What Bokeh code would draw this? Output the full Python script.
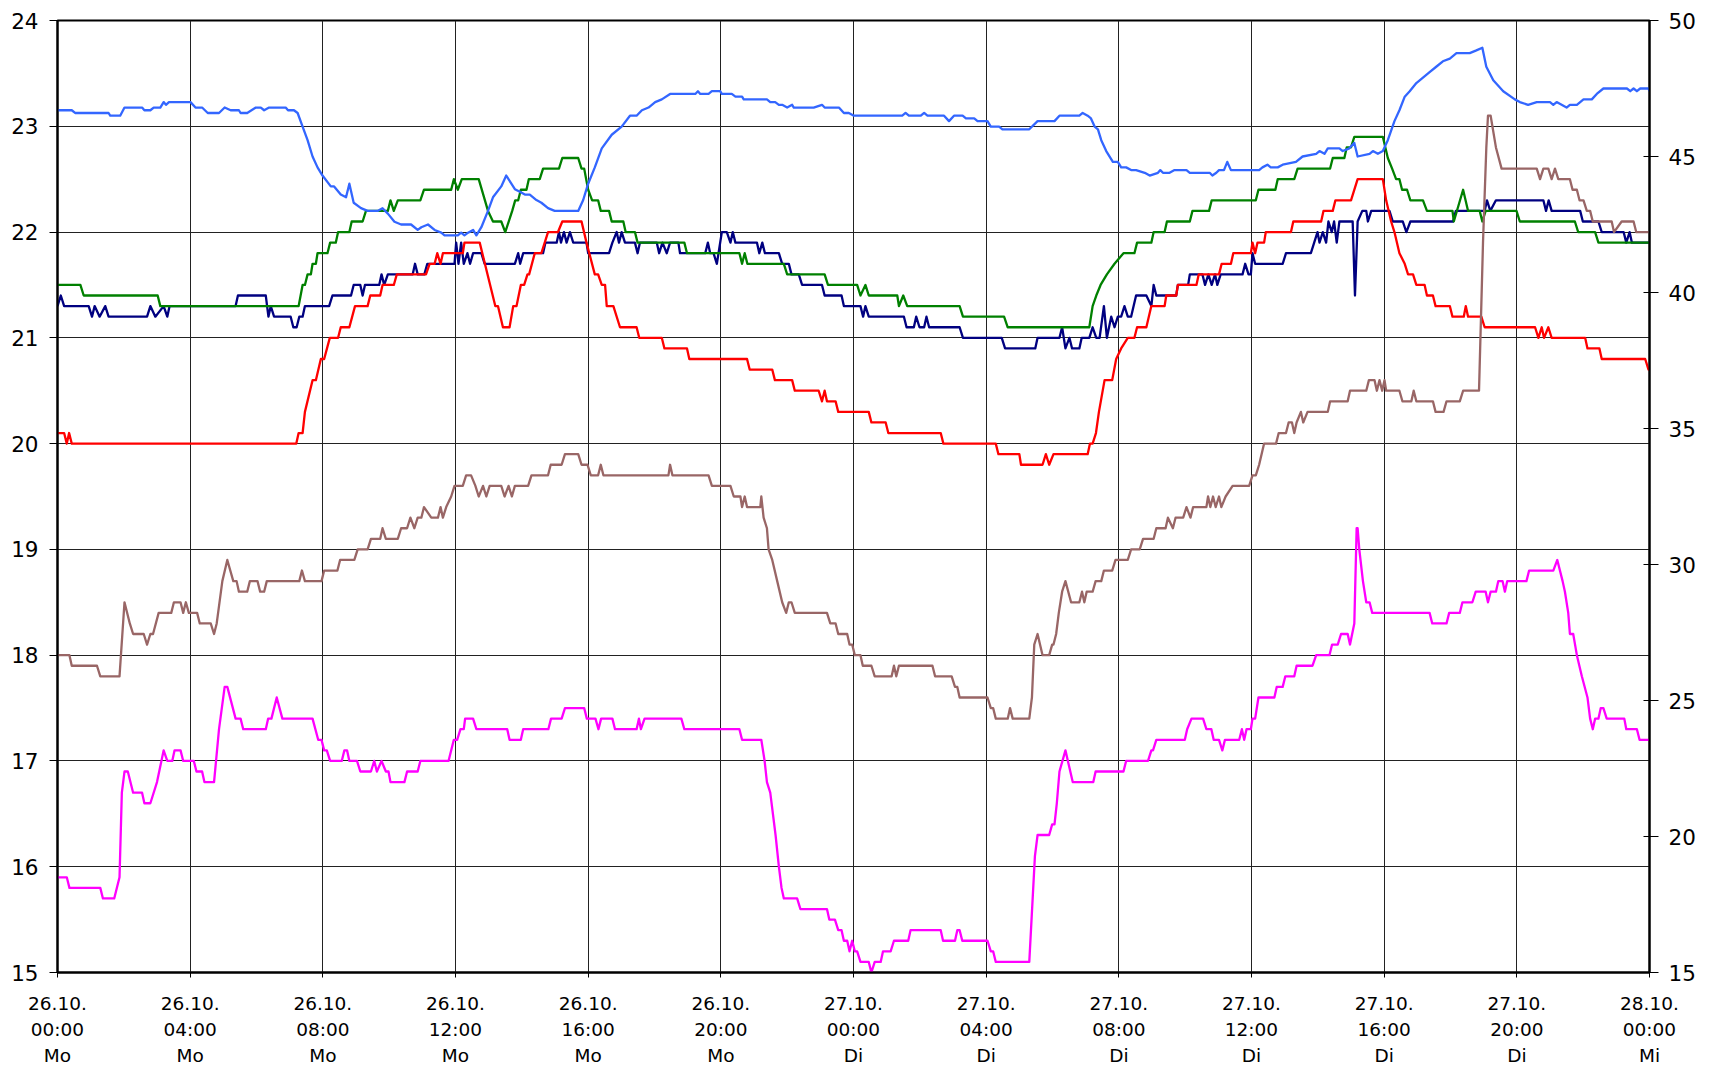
from bokeh.plotting import figure
from bokeh.models import Range1d, LinearAxis, FixedTicker
from bokeh.embed import file_html
from bokeh.resources import INLINE

# ---- axis definitions ----
x_ticks = [0, 4, 8, 12, 16, 20, 24, 28, 32, 36, 40, 44, 48]
x_labels = ["26.10.\n00:00\nMo", "26.10.\n04:00\nMo", "26.10.\n08:00\nMo", "26.10.\n12:00\nMo",
            "26.10.\n16:00\nMo", "26.10.\n20:00\nMo", "27.10.\n00:00\nDi", "27.10.\n04:00\nDi",
            "27.10.\n08:00\nDi", "27.10.\n12:00\nDi", "27.10.\n16:00\nDi", "27.10.\n20:00\nDi",
            "28.10.\n00:00\nMi"]
left_ticks = [15, 16, 17, 18, 19, 20, 21, 22, 23, 24]
right_ticks = [15, 20, 25, 30, 35, 40, 45, 50]

# ---- series data (hours since 26.10. 00:00, value) ----
red_t = [0, 0.2, 0.28, 0.35, 0.43, 7.2, 7.27, 7.39, 7.46, 7.69, 7.79, 7.94, 8.04, 8.21, 8.46, 8.54, 8.8, 8.97, 9.35, 9.43, 9.73, 9.8, 10.14, 10.23, 11.11, 11.22, 11.37, 11.45, 11.55, 11.62, 12.22, 12.27, 12.73, 13.2, 13.28, 13.43, 13.63, 13.74, 13.84, 13.97, 14.07, 14.17, 14.22, 14.39, 14.59, 14.79, 15.09, 15.22, 15.8, 15.95, 16.2, 16.3, 16.41, 16.51, 16.56, 16.76, 16.96, 17.46, 17.54, 18.22, 18.3, 18.98, 19.05, 20.79, 20.87, 21.55, 21.63, 22.15, 22.23, 22.95, 23.05, 23.13, 23.2, 23.46, 23.54, 24.46, 24.54, 24.97, 25.05, 26.63, 26.71, 28.29, 28.37, 29.0, 29.05, 29.7, 29.8, 29.9, 30.03, 31.06, 31.13, 31.21, 31.31, 31.4, 31.57, 31.8, 31.92, 32.07, 32.27, 32.47, 32.55, 32.83, 32.98, 33.38, 33.43, 33.73, 33.78, 34.34, 34.41, 35.02, 35.1, 35.38, 35.45, 35.98, 36.03, 36.11, 36.18, 36.38, 36.43, 37.19, 37.26, 38.1, 38.17, 38.45, 38.53, 39.0, 39.2, 39.96, 40.06, 40.21, 40.31, 40.46, 40.62, 40.72, 40.87, 40.97, 41.22, 41.29, 41.47, 41.55, 41.98, 42.06, 42.4, 42.46, 42.53, 42.93, 43.03, 44.55, 44.65, 44.75, 44.82, 44.95, 45.05, 46.06, 46.13, 46.49, 46.56, 47.87, 47.97, 48.0]
red_v = [20.1, 20.1, 20.0, 20.1, 20.0, 20.0, 20.1, 20.1, 20.3, 20.6, 20.6, 20.8, 20.8, 21.0, 21.0, 21.1, 21.1, 21.3, 21.3, 21.4, 21.4, 21.5, 21.5, 21.6, 21.6, 21.7, 21.7, 21.8, 21.7, 21.8, 21.8, 21.9, 21.9, 21.3, 21.3, 21.1, 21.1, 21.3, 21.3, 21.5, 21.5, 21.6, 21.6, 21.8, 21.8, 22.0, 22.0, 22.1, 22.1, 21.9, 21.6, 21.6, 21.5, 21.5, 21.3, 21.3, 21.1, 21.1, 21.0, 21.0, 20.9, 20.9, 20.8, 20.8, 20.7, 20.7, 20.6, 20.6, 20.5, 20.5, 20.4, 20.5, 20.4, 20.4, 20.3, 20.3, 20.2, 20.2, 20.1, 20.1, 20.0, 20.0, 19.9, 19.9, 19.8, 19.8, 19.9, 19.8, 19.9, 19.9, 20.0, 20.0, 20.1, 20.3, 20.6, 20.6, 20.8, 20.9, 21.0, 21.0, 21.1, 21.1, 21.3, 21.3, 21.4, 21.4, 21.5, 21.5, 21.6, 21.6, 21.7, 21.7, 21.8, 21.8, 21.9, 21.8, 21.9, 21.9, 22.0, 22.0, 22.1, 22.1, 22.2, 22.2, 22.3, 22.3, 22.5, 22.5, 22.3, 22.1, 22.0, 21.8, 21.7, 21.6, 21.6, 21.5, 21.5, 21.4, 21.4, 21.3, 21.3, 21.2, 21.2, 21.3, 21.2, 21.2, 21.1, 21.1, 21.0, 21.1, 21.0, 21.1, 21.0, 21.0, 20.9, 20.9, 20.8, 20.8, 20.7, 20.7]

green_t = [0, 0.69, 0.79, 3.02, 3.1, 7.27, 7.39, 7.46, 7.54, 7.64, 7.69, 7.79, 7.84, 8.14, 8.22, 8.39, 8.46, 8.8, 8.87, 9.2, 9.3, 9.96, 10.04, 10.14, 10.26, 10.94, 11.05, 11.87, 11.95, 12.07, 12.19, 12.7, 12.98, 13.13, 13.38, 13.5, 13.71, 13.8, 13.89, 13.97, 14.14, 14.21, 14.54, 14.64, 15.12, 15.22, 15.7, 15.8, 15.88, 16.0, 16.12, 16.3, 16.38, 16.63, 16.71, 17.06, 17.13, 17.41, 17.49, 18.9, 18.98, 20.56, 20.64, 20.72, 20.8, 21.9, 22.0, 23.13, 23.23, 24.11, 24.21, 24.36, 24.46, 25.32, 25.37, 25.5, 25.62, 27.2, 27.3, 28.54, 28.65, 31.11, 31.21, 31.32, 31.45, 31.64, 31.87, 32.14, 32.47, 32.55, 32.98, 33.05, 33.38, 33.45, 34.14, 34.22, 34.72, 34.8, 36.13, 36.21, 36.72, 36.79, 37.29, 37.39, 38.37, 38.45, 38.8, 38.87, 39.0, 39.1, 39.96, 40.11, 40.24, 40.36, 40.46, 40.54, 40.69, 40.79, 41.17, 41.29, 42.06, 42.1, 42.38, 42.53, 42.88, 42.96, 43.06, 43.99, 44.09, 45.75, 45.85, 46.36, 46.46, 48.0]
green_v = [21.5, 21.5, 21.4, 21.4, 21.3, 21.3, 21.5, 21.5, 21.6, 21.6, 21.7, 21.7, 21.8, 21.8, 21.9, 21.9, 22.0, 22.0, 22.1, 22.1, 22.2, 22.2, 22.3, 22.2, 22.3, 22.3, 22.4, 22.4, 22.5, 22.4, 22.5, 22.5, 22.2, 22.1, 22.1, 22.0, 22.2, 22.3, 22.3, 22.4, 22.4, 22.5, 22.5, 22.6, 22.6, 22.7, 22.7, 22.6, 22.6, 22.4, 22.3, 22.3, 22.2, 22.2, 22.1, 22.1, 22.0, 22.0, 21.9, 21.9, 21.8, 21.8, 21.7, 21.8, 21.7, 21.7, 21.6, 21.6, 21.5, 21.5, 21.4, 21.5, 21.4, 21.4, 21.3, 21.4, 21.3, 21.3, 21.2, 21.2, 21.1, 21.1, 21.3, 21.4, 21.5, 21.6, 21.7, 21.8, 21.8, 21.9, 21.9, 22.0, 22.0, 22.1, 22.1, 22.2, 22.2, 22.3, 22.3, 22.4, 22.4, 22.5, 22.5, 22.6, 22.6, 22.7, 22.7, 22.8, 22.8, 22.9, 22.9, 22.7, 22.6, 22.5, 22.5, 22.4, 22.4, 22.3, 22.3, 22.2, 22.2, 22.1, 22.4, 22.2, 22.2, 22.1, 22.2, 22.2, 22.1, 22.1, 22.0, 22.0, 21.9, 21.9]

navy_t = [0, 0.1, 0.2, 0.94, 1.04, 1.12, 1.27, 1.44, 1.54, 2.7, 2.8, 2.95, 3.2, 3.31, 3.38, 5.37, 5.44, 6.28, 6.36, 6.43, 6.53, 7.03, 7.11, 7.21, 7.29, 7.39, 7.46, 8.19, 8.29, 8.85, 8.93, 9.13, 9.2, 9.27, 9.7, 9.77, 9.85, 9.96, 10.71, 10.78, 10.86, 11.06, 11.15, 11.97, 12.02, 12.09, 12.17, 12.25, 12.36, 12.44, 12.53, 12.78, 12.88, 13.79, 13.89, 13.95, 14.04, 14.64, 14.71, 15.05, 15.12, 15.18, 15.27, 15.35, 15.45, 15.55, 15.95, 16.0, 16.63, 16.73, 16.86, 16.93, 17.01, 17.11, 17.41, 17.49, 17.56, 18.07, 18.14, 18.24, 18.37, 18.47, 18.72, 18.77, 19.53, 19.61, 19.68, 19.78, 19.88, 20.03, 20.18, 20.29, 20.36, 20.44, 21.09, 21.16, 21.25, 21.33, 21.75, 21.85, 22.05, 22.13, 22.35, 22.45, 23.05, 23.13, 23.64, 23.71, 24.21, 24.29, 24.36, 24.46, 25.52, 25.6, 25.82, 25.89, 25.99, 26.13, 26.2, 26.28, 27.2, 27.3, 28.47, 28.57, 29.48, 29.55, 30.21, 30.29, 30.39, 30.51, 30.59, 30.81, 30.88, 31.11, 31.21, 31.32, 31.42, 31.55, 31.64, 31.77, 31.87, 31.97, 32.07, 32.17, 32.27, 32.37, 32.52, 32.83, 32.98, 33.05, 33.13, 33.73, 33.78, 34.09, 34.14, 34.52, 34.6, 34.7, 34.8, 34.9, 34.97, 35.07, 35.73, 35.81, 35.91, 35.98, 36.03, 36.11, 36.94, 37.04, 37.79, 37.89, 37.99, 38.05, 38.15, 38.25, 38.32, 38.42, 38.49, 38.57, 38.65, 39.05, 39.12, 39.2, 39.34, 39.46, 39.51, 39.61, 40.16, 40.26, 40.56, 40.67, 40.79, 42.08, 42.16, 43.03, 43.1, 43.2, 43.37, 44.8, 44.88, 44.96, 45.05, 45.91, 45.99, 46.46, 46.56, 47.22, 47.3, 47.4, 47.47, 48.0]
navy_v = [21.3, 21.4, 21.3, 21.3, 21.2, 21.3, 21.2, 21.3, 21.2, 21.2, 21.3, 21.2, 21.3, 21.2, 21.3, 21.3, 21.4, 21.4, 21.2, 21.3, 21.2, 21.2, 21.1, 21.1, 21.2, 21.2, 21.3, 21.3, 21.4, 21.4, 21.5, 21.5, 21.4, 21.5, 21.5, 21.6, 21.5, 21.6, 21.6, 21.7, 21.6, 21.6, 21.7, 21.7, 21.9, 21.7, 21.9, 21.7, 21.8, 21.7, 21.8, 21.8, 21.7, 21.7, 21.8, 21.7, 21.8, 21.8, 21.9, 21.9, 22.0, 21.9, 22.0, 21.9, 22.0, 21.9, 21.9, 21.8, 21.8, 21.9, 22.0, 21.9, 22.0, 21.9, 21.9, 21.8, 21.9, 21.9, 21.8, 21.9, 21.8, 21.9, 21.9, 21.8, 21.8, 21.9, 21.8, 21.8, 21.7, 22.0, 22.0, 21.9, 22.0, 21.9, 21.9, 21.8, 21.9, 21.8, 21.8, 21.7, 21.7, 21.6, 21.6, 21.5, 21.5, 21.4, 21.4, 21.3, 21.3, 21.2, 21.3, 21.2, 21.2, 21.1, 21.1, 21.2, 21.1, 21.1, 21.2, 21.1, 21.1, 21.0, 21.0, 20.9, 20.9, 21.0, 21.0, 21.1, 20.9, 21.0, 20.9, 20.9, 21.0, 21.0, 21.1, 21.0, 21.0, 21.3, 21.0, 21.2, 21.1, 21.2, 21.2, 21.3, 21.2, 21.2, 21.4, 21.4, 21.3, 21.5, 21.4, 21.4, 21.5, 21.5, 21.6, 21.6, 21.5, 21.6, 21.5, 21.6, 21.5, 21.6, 21.6, 21.7, 21.6, 21.6, 21.8, 21.7, 21.7, 21.8, 21.8, 21.9, 22.0, 21.9, 22.0, 21.9, 22.1, 22.0, 22.1, 21.9, 22.1, 22.1, 21.4, 22.1, 22.2, 22.2, 22.1, 22.2, 22.2, 22.1, 22.1, 22.0, 22.1, 22.1, 22.2, 22.2, 22.3, 22.2, 22.3, 22.3, 22.2, 22.3, 22.2, 22.2, 22.1, 22.1, 22.0, 22.0, 21.9, 22.0, 21.9, 21.9]

blue_t = [0, 0.43, 0.53, 1.54, 1.59, 1.89, 2.02, 2.55, 2.62, 2.8, 2.9, 3.1, 3.2, 3.27, 3.36, 4.01, 4.16, 4.36, 4.53, 4.87, 5.04, 5.22, 5.47, 5.52, 5.72, 5.98, 6.13, 6.23, 6.38, 6.88, 6.95, 7.13, 7.24, 7.39, 7.54, 7.69, 7.84, 7.99, 8.24, 8.34, 8.54, 8.7, 8.8, 8.93, 9.15, 9.35, 9.65, 9.8, 9.96, 10.16, 10.36, 10.66, 10.86, 10.97, 11.17, 11.37, 11.57, 11.67, 12.07, 12.17, 12.27, 12.38, 12.53, 12.63, 12.78, 12.98, 13.13, 13.38, 13.53, 13.79, 13.94, 14.09, 14.24, 14.44, 14.59, 14.79, 14.99, 15.7, 15.85, 16.0, 16.2, 16.41, 16.71, 17.01, 17.26, 17.46, 17.62, 17.82, 18.02, 18.22, 18.47, 19.23, 19.31, 19.38, 19.63, 19.73, 19.98, 20.03, 20.33, 20.44, 20.64, 20.69, 21.39, 21.49, 21.64, 21.75, 21.85, 22.0, 22.15, 22.2, 22.8, 23.05, 23.13, 23.56, 23.71, 23.86, 24.01, 25.47, 25.57, 25.67, 26.03, 26.13, 26.23, 26.73, 26.88, 27.03, 27.29, 27.39, 27.64, 27.74, 28.04, 28.14, 28.39, 28.49, 29.3, 29.55, 30.06, 30.21, 30.81, 30.91, 31.06, 31.16, 31.27, 31.37, 31.47, 31.62, 31.82, 31.97, 32.07, 32.22, 32.37, 32.52, 32.78, 32.93, 33.18, 33.25, 33.33, 33.53, 33.68, 34.04, 34.14, 34.74, 34.82, 34.94, 35.02, 35.17, 35.27, 35.38, 36.23, 36.33, 36.48, 36.58, 36.79, 36.94, 37.34, 37.54, 37.95, 38.05, 38.2, 38.3, 38.65, 38.75, 38.95, 39.1, 39.2, 39.56, 39.66, 39.81, 39.96, 40.11, 40.31, 40.46, 40.62, 40.77, 40.97, 41.17, 41.37, 41.57, 41.77, 41.98, 42.18, 42.58, 42.78, 42.96, 43.08, 43.29, 43.59, 43.94, 44.09, 44.34, 44.6, 45.0, 45.1, 45.2, 45.35, 45.5, 45.6, 45.81, 46.01, 46.26, 46.41, 46.61, 47.32, 47.42, 47.52, 47.62, 47.72, 47.97, 48.0]
blue_v = [46.7, 46.7, 46.6, 46.6, 46.5, 46.5, 46.8, 46.8, 46.7, 46.7, 46.8, 46.8, 47.0, 46.9, 47.0, 47.0, 46.8, 46.8, 46.6, 46.6, 46.8, 46.7, 46.7, 46.6, 46.6, 46.8, 46.8, 46.7, 46.8, 46.8, 46.7, 46.7, 46.6, 46.1, 45.6, 45.0, 44.6, 44.3, 43.9, 43.9, 43.6, 43.5, 44.0, 43.3, 43.1, 43.0, 43.0, 43.1, 42.9, 42.6, 42.5, 42.5, 42.3, 42.4, 42.5, 42.3, 42.2, 42.1, 42.1, 42.2, 42.1, 42.2, 42.3, 42.1, 42.4, 43.0, 43.5, 43.9, 44.3, 43.8, 43.7, 43.6, 43.6, 43.4, 43.3, 43.1, 43.0, 43.0, 43.4, 44.0, 44.6, 45.3, 45.8, 46.1, 46.5, 46.5, 46.7, 46.8, 47.0, 47.1, 47.3, 47.3, 47.4, 47.3, 47.3, 47.4, 47.4, 47.3, 47.3, 47.2, 47.2, 47.1, 47.1, 47.0, 47.0, 46.9, 46.9, 46.8, 46.9, 46.8, 46.8, 46.9, 46.8, 46.8, 46.6, 46.6, 46.5, 46.5, 46.6, 46.5, 46.5, 46.6, 46.5, 46.5, 46.3, 46.5, 46.5, 46.4, 46.4, 46.3, 46.3, 46.1, 46.1, 46.0, 46.0, 46.3, 46.3, 46.5, 46.5, 46.6, 46.5, 46.4, 46.1, 46.0, 45.6, 45.2, 44.8, 44.8, 44.6, 44.6, 44.5, 44.5, 44.4, 44.3, 44.4, 44.5, 44.4, 44.4, 44.5, 44.5, 44.4, 44.4, 44.3, 44.4, 44.5, 44.5, 44.8, 44.5, 44.5, 44.6, 44.7, 44.6, 44.6, 44.7, 44.8, 45.0, 45.1, 45.2, 45.1, 45.3, 45.3, 45.2, 45.3, 45.5, 45.0, 45.1, 45.2, 45.1, 45.2, 45.6, 46.3, 46.7, 47.2, 47.4, 47.7, 47.9, 48.1, 48.3, 48.5, 48.6, 48.8, 48.8, 48.9, 49.0, 48.3, 47.8, 47.4, 47.1, 47.0, 46.9, 47.0, 47.0, 46.9, 47.0, 46.9, 46.8, 46.9, 46.9, 47.1, 47.1, 47.3, 47.5, 47.5, 47.4, 47.5, 47.4, 47.5, 47.5, 47.4]

brown_t = [0, 0.36, 0.43, 1.19, 1.29, 1.87, 2.02, 2.18, 2.28, 2.6, 2.7, 2.8, 2.88, 3.05, 3.43, 3.51, 3.71, 3.79, 3.87, 3.96, 4.21, 4.29, 4.62, 4.72, 4.8, 4.97, 5.12, 5.3, 5.4, 5.47, 5.72, 5.8, 6.03, 6.11, 6.23, 6.31, 7.29, 7.37, 7.46, 7.96, 8.04, 8.44, 8.52, 8.95, 9.05, 9.35, 9.45, 9.73, 9.8, 9.9, 10.26, 10.36, 10.54, 10.64, 10.76, 10.86, 10.97, 11.05, 11.27, 11.47, 11.55, 11.62, 11.72, 11.87, 11.97, 12.22, 12.32, 12.47, 12.6, 12.7, 12.83, 12.93, 13.03, 13.38, 13.48, 13.6, 13.7, 13.79, 14.19, 14.29, 14.79, 14.87, 15.2, 15.3, 15.7, 15.8, 15.98, 16.08, 16.3, 16.38, 16.46, 18.42, 18.47, 18.54, 19.63, 19.73, 20.29, 20.39, 20.59, 20.64, 20.72, 20.79, 21.19, 21.22, 21.29, 21.39, 21.44, 21.55, 21.7, 21.85, 21.97, 22.05, 22.13, 22.23, 23.2, 23.3, 23.46, 23.54, 23.81, 23.88, 23.96, 24.04, 24.21, 24.28, 24.54, 24.64, 25.15, 25.22, 25.29, 25.37, 26.38, 26.46, 26.96, 27.06, 27.13, 27.2, 28.04, 28.14, 28.21, 28.29, 28.65, 28.72, 28.8, 29.3, 29.38, 29.45, 29.55, 29.7, 29.9, 29.99, 30.03, 30.11, 30.19, 30.29, 30.39, 30.56, 30.81, 30.89, 30.96, 31.03, 31.21, 31.3, 31.47, 31.55, 31.8, 31.9, 32.27, 32.37, 32.63, 32.73, 33.05, 33.13, 33.41, 33.48, 33.63, 33.71, 33.94, 34.04, 34.16, 34.24, 34.64, 34.69, 34.76, 34.84, 34.92, 35.02, 35.09, 35.22, 35.43, 35.93, 36.03, 36.13, 36.23, 36.38, 36.74, 36.82, 37.04, 37.12, 37.22, 37.29, 37.36, 37.49, 37.56, 37.69, 38.3, 38.37, 38.9, 38.97, 39.46, 39.54, 39.71, 39.78, 39.86, 39.94, 40.01, 40.06, 40.46, 40.55, 40.82, 40.89, 40.97, 41.47, 41.55, 41.79, 41.88, 42.28, 42.38, 42.86, 42.98, 43.08, 43.13, 43.21, 43.37, 43.54, 44.6, 44.7, 44.8, 44.95, 45.05, 45.15, 45.25, 45.6, 45.68, 45.81, 45.89, 46.01, 46.11, 46.21, 46.29, 46.86, 46.93, 47.16, 47.52, 47.6, 48.0]
brown_v = [18.0, 18.0, 17.9, 17.9, 17.8, 17.8, 18.5, 18.3, 18.2, 18.2, 18.1, 18.2, 18.2, 18.4, 18.4, 18.5, 18.5, 18.4, 18.5, 18.4, 18.4, 18.3, 18.3, 18.2, 18.3, 18.7, 18.9, 18.7, 18.7, 18.6, 18.6, 18.7, 18.7, 18.6, 18.6, 18.7, 18.7, 18.8, 18.7, 18.7, 18.8, 18.8, 18.9, 18.9, 19.0, 19.0, 19.1, 19.1, 19.2, 19.1, 19.1, 19.2, 19.2, 19.3, 19.2, 19.3, 19.3, 19.4, 19.3, 19.3, 19.4, 19.3, 19.4, 19.5, 19.6, 19.6, 19.7, 19.7, 19.6, 19.5, 19.6, 19.5, 19.6, 19.6, 19.5, 19.6, 19.5, 19.6, 19.6, 19.7, 19.7, 19.8, 19.8, 19.9, 19.9, 19.8, 19.8, 19.7, 19.7, 19.8, 19.7, 19.7, 19.8, 19.7, 19.7, 19.6, 19.6, 19.5, 19.5, 19.4, 19.5, 19.4, 19.4, 19.5, 19.3, 19.2, 19.0, 18.9, 18.7, 18.5, 18.4, 18.5, 18.5, 18.4, 18.4, 18.3, 18.3, 18.2, 18.2, 18.1, 18.1, 18.0, 18.0, 17.9, 17.9, 17.8, 17.8, 17.9, 17.8, 17.9, 17.9, 17.8, 17.8, 17.7, 17.7, 17.6, 17.6, 17.5, 17.5, 17.4, 17.4, 17.5, 17.4, 17.4, 17.6, 18.1, 18.2, 18.0, 18.0, 18.1, 18.1, 18.2, 18.4, 18.6, 18.7, 18.5, 18.5, 18.6, 18.5, 18.6, 18.6, 18.7, 18.7, 18.8, 18.8, 18.9, 18.9, 19.0, 19.0, 19.1, 19.1, 19.2, 19.2, 19.3, 19.2, 19.3, 19.3, 19.4, 19.3, 19.4, 19.4, 19.5, 19.4, 19.5, 19.4, 19.5, 19.4, 19.5, 19.6, 19.6, 19.7, 19.7, 19.8, 20.0, 20.0, 20.1, 20.1, 20.2, 20.2, 20.1, 20.2, 20.3, 20.2, 20.3, 20.3, 20.4, 20.4, 20.5, 20.5, 20.6, 20.6, 20.5, 20.6, 20.5, 20.6, 20.5, 20.5, 20.4, 20.4, 20.5, 20.4, 20.4, 20.3, 20.3, 20.4, 20.4, 20.5, 20.5, 21.9, 22.8, 23.1, 23.1, 22.8, 22.6, 22.6, 22.5, 22.6, 22.6, 22.5, 22.6, 22.5, 22.5, 22.4, 22.4, 22.3, 22.3, 22.2, 22.2, 22.1, 22.1, 22.0, 22.1, 22.1, 22.0, 22.0]

magenta_t = [0, 0.28, 0.36, 1.29, 1.37, 1.71, 1.87, 1.94, 2.02, 2.12, 2.28, 2.55, 2.62, 2.8, 3.0, 3.2, 3.31, 3.46, 3.53, 3.71, 3.79, 4.11, 4.19, 4.36, 4.43, 4.72, 4.87, 5.04, 5.12, 5.37, 5.52, 5.6, 6.28, 6.35, 6.45, 6.61, 6.78, 7.69, 7.86, 7.96, 8.04, 8.12, 8.22, 8.57, 8.65, 8.73, 8.8, 9.03, 9.13, 9.45, 9.55, 9.63, 9.77, 9.9, 9.98, 10.04, 10.46, 10.54, 10.86, 10.94, 11.79, 11.95, 12.05, 12.15, 12.25, 12.29, 12.53, 12.63, 13.56, 13.63, 13.97, 14.04, 14.8, 14.88, 15.2, 15.3, 15.88, 15.96, 16.22, 16.31, 16.39, 16.73, 16.81, 17.46, 17.53, 17.59, 17.7, 18.81, 18.9, 20.56, 20.64, 21.22, 21.32, 21.39, 21.49, 21.65, 21.75, 21.83, 21.9, 22.3, 22.4, 23.2, 23.27, 23.44, 23.54, 23.64, 23.71, 23.81, 23.88, 23.96, 24.04, 24.11, 24.21, 24.46, 24.54, 24.64, 24.82, 24.89, 25.12, 25.22, 25.65, 25.72, 26.63, 26.7, 27.06, 27.13, 27.2, 27.28, 28.04, 28.14, 28.21, 28.29, 29.3, 29.47, 29.55, 29.9, 29.99, 30.06, 30.13, 30.21, 30.39, 30.61, 31.23, 31.3, 32.14, 32.22, 32.88, 32.98, 33.03, 33.13, 33.99, 34.06, 34.19, 34.54, 34.64, 34.79, 34.86, 35.02, 35.12, 35.2, 35.63, 35.71, 35.78, 35.85, 35.98, 36.03, 36.11, 36.21, 36.69, 36.76, 36.94, 37.02, 37.29, 37.36, 37.84, 37.95, 38.35, 38.43, 38.6, 38.7, 38.9, 38.97, 39.1, 39.17, 39.2, 39.25, 39.36, 39.46, 39.56, 39.64, 41.37, 41.45, 41.88, 41.96, 42.28, 42.36, 42.66, 42.76, 43.06, 43.13, 43.21, 43.37, 43.44, 43.57, 43.64, 43.71, 44.29, 44.37, 45.1, 45.22, 45.38, 45.45, 45.55, 45.6, 45.7, 45.81, 45.96, 46.13, 46.21, 46.29, 46.36, 46.46, 46.53, 46.61, 46.71, 47.24, 47.3, 47.62, 47.7, 48.0]
magenta_v = [15.9, 15.9, 15.8, 15.8, 15.7, 15.7, 15.9, 16.7, 16.9, 16.9, 16.7, 16.7, 16.6, 16.6, 16.8, 17.1, 17.0, 17.0, 17.1, 17.1, 17.0, 17.0, 16.9, 16.9, 16.8, 16.8, 17.3, 17.7, 17.7, 17.4, 17.4, 17.3, 17.3, 17.4, 17.4, 17.6, 17.4, 17.4, 17.2, 17.2, 17.1, 17.1, 17.0, 17.0, 17.1, 17.1, 17.0, 17.0, 16.9, 16.9, 17.0, 16.9, 17.0, 16.9, 16.9, 16.8, 16.8, 16.9, 16.9, 17.0, 17.0, 17.2, 17.2, 17.3, 17.3, 17.4, 17.4, 17.3, 17.3, 17.2, 17.2, 17.3, 17.3, 17.4, 17.4, 17.5, 17.5, 17.4, 17.4, 17.3, 17.4, 17.4, 17.3, 17.3, 17.4, 17.3, 17.4, 17.4, 17.3, 17.3, 17.2, 17.2, 17.0, 16.8, 16.7, 16.3, 16.0, 15.8, 15.7, 15.7, 15.6, 15.6, 15.5, 15.5, 15.4, 15.4, 15.3, 15.3, 15.2, 15.3, 15.2, 15.2, 15.1, 15.1, 15.0, 15.1, 15.1, 15.2, 15.2, 15.3, 15.3, 15.4, 15.4, 15.3, 15.3, 15.4, 15.4, 15.3, 15.3, 15.2, 15.2, 15.1, 15.1, 16.1, 16.3, 16.3, 16.4, 16.4, 16.6, 16.9, 17.1, 16.8, 16.8, 16.9, 16.9, 17.0, 17.0, 17.1, 17.1, 17.2, 17.2, 17.3, 17.4, 17.4, 17.3, 17.3, 17.2, 17.2, 17.1, 17.2, 17.2, 17.3, 17.2, 17.3, 17.3, 17.4, 17.4, 17.6, 17.6, 17.7, 17.7, 17.8, 17.8, 17.9, 17.9, 18.0, 18.0, 18.1, 18.1, 18.2, 18.2, 18.1, 18.3, 19.2, 19.2, 19.0, 18.7, 18.5, 18.5, 18.4, 18.4, 18.3, 18.3, 18.4, 18.4, 18.5, 18.5, 18.6, 18.6, 18.5, 18.6, 18.6, 18.7, 18.7, 18.6, 18.7, 18.7, 18.8, 18.8, 18.9, 18.7, 18.6, 18.4, 18.2, 18.2, 18.0, 17.8, 17.6, 17.4, 17.3, 17.4, 17.4, 17.5, 17.5, 17.4, 17.4, 17.3, 17.3, 17.2, 17.2]

FONT = "DejaVu Sans"

p = figure(width=1700, height=1076, output_backend="svg", toolbar_location=None,
           x_range=Range1d(0, 48), y_range=Range1d(15, 24),
           min_border_left=57, min_border_right=51, min_border_top=20, min_border_bottom=104,
           background_fill_color="white", border_fill_color="white")
p.extra_y_ranges = {"rh": Range1d(15, 50)}

p.outline_line_color = "black"
p.outline_line_width = 2

xt = FixedTicker(ticks=x_ticks)
yt = FixedTicker(ticks=left_ticks)
p.xaxis.ticker = xt
p.yaxis.ticker = yt
p.xgrid.ticker = xt
p.ygrid.ticker = yt
p.xaxis.major_label_overrides = {t: lab for t, lab in zip(x_ticks, x_labels)}

for ax in (p.xaxis, p.yaxis):
    ax.axis_line_width = 2
    ax.axis_line_color = "black"
    ax.major_tick_line_color = "black"
    ax.major_tick_line_width = 1
    ax.major_tick_in = 0
    ax.minor_tick_line_color = None
    ax.major_label_text_font = FONT
    ax.major_label_text_color = "black"

p.xaxis.major_tick_out = 5
p.xaxis.major_label_text_font_size = "18.5px"
p.xaxis.major_label_text_line_height = 1.24
p.xaxis.major_label_standoff = 15
p.yaxis.major_tick_out = 8
p.yaxis.major_label_text_font_size = "21.5px"
p.yaxis.major_label_standoff = 11

rax = LinearAxis(y_range_name="rh", ticker=FixedTicker(ticks=right_ticks))
rax.axis_line_width = 2
rax.axis_line_color = "black"
rax.major_tick_line_color = "black"
rax.major_tick_in = 6
rax.major_tick_out = 9
rax.minor_tick_line_color = None
rax.major_label_text_font = FONT
rax.major_label_text_font_size = "21.5px"
rax.major_label_text_color = "black"
rax.major_label_standoff = 10
p.add_layout(rax, "right")

p.xgrid.grid_line_color = "#222222"
p.ygrid.grid_line_color = "#222222"
p.xgrid.grid_line_width = 1
p.ygrid.grid_line_width = 1

LW = 2.3
p.line(navy_t, navy_v, line_color="#000080", line_width=LW, line_join="round")
p.line(red_t, red_v, line_color="#FF0000", line_width=LW, line_join="round")
p.line(green_t, green_v, line_color="#008000", line_width=LW, line_join="round")
p.line(blue_t, blue_v, line_color="#3366FF", line_width=LW, line_join="round", y_range_name="rh")
p.line(brown_t, brown_v, line_color="#996666", line_width=LW, line_join="round")
p.line(magenta_t, magenta_v, line_color="#FF00FF", line_width=LW, line_join="round")

open("out.html", "w").write(file_html(p, INLINE))
